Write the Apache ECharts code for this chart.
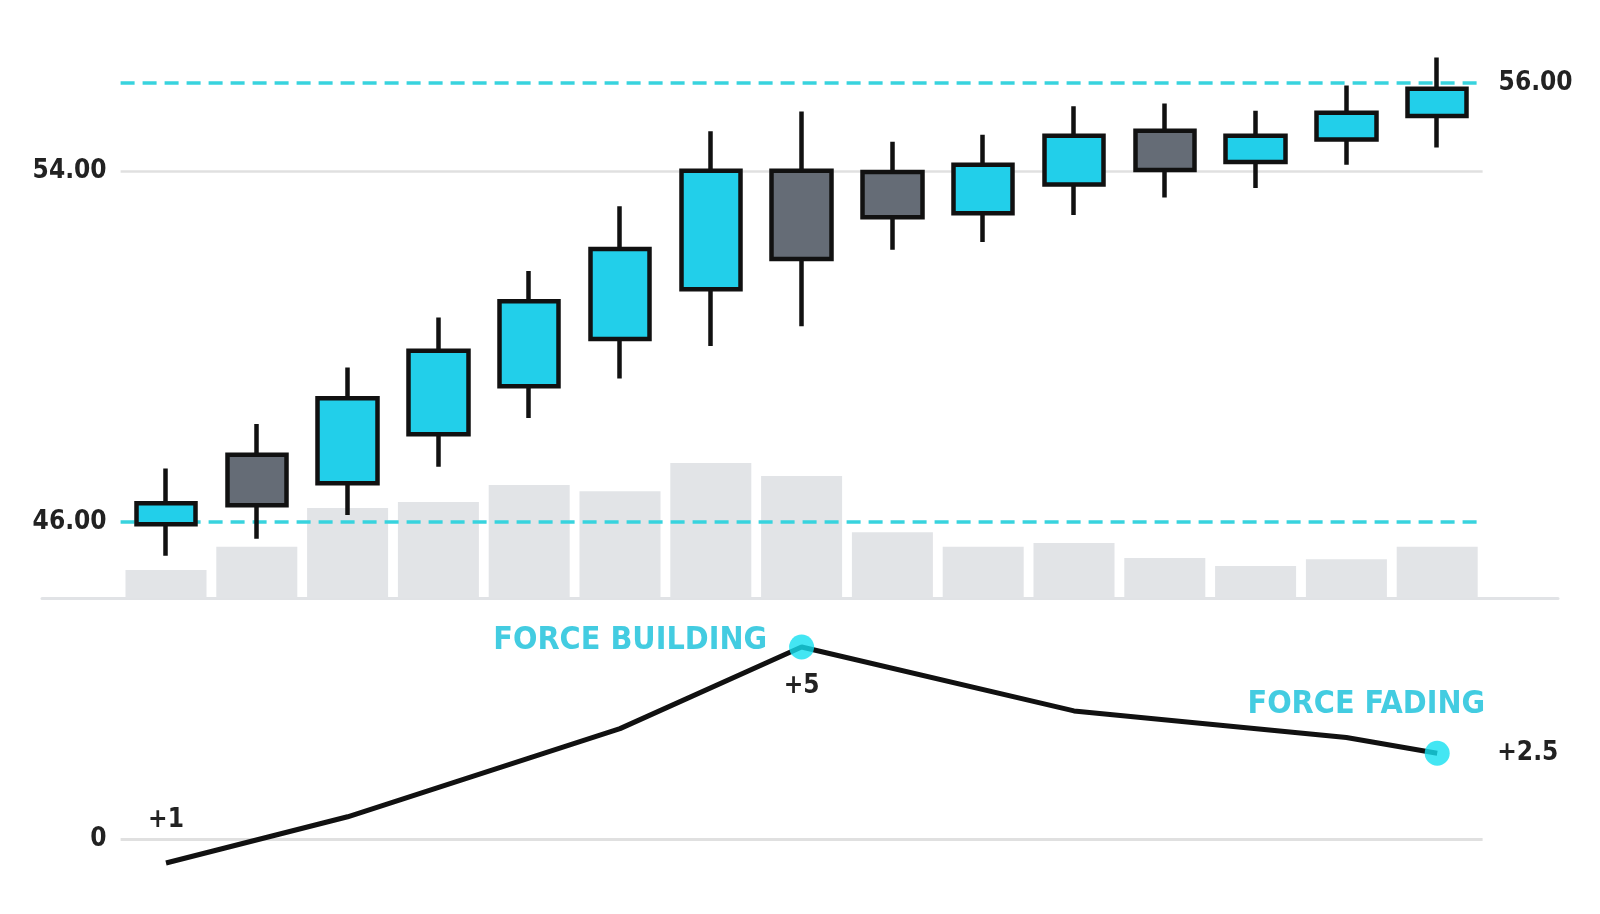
<!DOCTYPE html>
<html>
<head>
<meta charset="utf-8">
<script src="https://cdn.jsdelivr.net/npm/echarts@6/dist/echarts.min.js"></script>
<style>
html,body{margin:0;padding:0;background:#fff;}
#chart{width:1600px;height:914px;}
</style>
</head>
<body>
<div id="chart"></div>
<script>
// ---- data ----
const categories = ['P1','P2','P3','P4','P5','P6','P7','P8','P9','P10','P11','P12','P13','P14','P15'];
const openV  = [45.95, 47.53, 46.88, 48.00, 49.09, 50.17, 51.30, 54.00, 53.97, 53.03, 53.69, 54.91, 54.20, 54.71, 55.25];
const closeV = [46.43, 46.38, 48.82, 49.90, 51.03, 52.22, 54.00, 51.99, 52.94, 54.14, 54.80, 54.02, 54.80, 55.32, 55.87];
const lowV   = [45.23, 45.62, 46.16, 47.26, 48.37, 49.27, 50.01, 50.46, 52.20, 52.38, 52.99, 53.39, 53.61, 54.14, 54.53];
const highV  = [47.22, 48.23, 49.52, 50.66, 51.72, 53.19, 54.90, 55.35, 54.66, 54.82, 55.47, 55.53, 55.37, 55.94, 56.58];
const volume = [5.0, 9.1, 16.0, 17.1, 20.1, 19.0, 24.0, 21.7, 11.7, 9.1, 9.8, 7.1, 5.7, 6.9, 9.1];
const force  = [-0.61, null, 0.59, null, null, 2.88, null, 5.0, null, null, 3.34, null, null, 2.65, 2.24];
const forceNotes = ['+1','','','','','','','+5','','','','','','','+2.5'];
const forceMarks = [7, 14];
const forceMarkText = ['FORCE BUILDING', 'FORCE FADING'];
const gridLevel = 54, supportLevel = 46, resistLevel = 56;
const levelLabels = ['54.00', '46.00', '56.00'];
const zeroLabel = '0';

// ---- styles ----
const FONT = "'Liberation Sans Narrow','Arial Narrow','DejaVu Sans Condensed','Roboto Condensed',sans-serif";
const CYAN = '#22CFEA', GREY = '#656C76', DASH = '#38D3DE', DOT = '#14E0F0', TXTC = '#14BFDA';

const candleData = categories.map((c, i) => [openV[i], closeV[i], lowV[i], highV[i]]);

const lineData = force.map((v, i) => {
  const item = { value: v };
  if (forceNotes[i]) {
    let pos = 'top', dist = 30;
    if (i === 7) { pos = 'bottom'; dist = 26; }
    if (i === 14) { pos = 'right'; dist = 60; }
    item.label = { show: true, formatter: forceNotes[i], position: pos, distance: dist };
  }
  return item;
});

const dotData = categories.map((c, i) => {
  const k = forceMarks.indexOf(i);
  if (k < 0) return null;
  const item = { value: force[i] };
  if (k === 0) {
    item.label = { show: true, formatter: forceMarkText[k], position: 'left', distance: 22, offset: [0, -6] };
  } else {
    item.label = { show: true, formatter: forceMarkText[k], position: 'top', align: 'right', distance: 18, offset: [48, 0] };
  }
  return item;
});

const chart = echarts.init(document.getElementById('chart'), null, { renderer: 'canvas' });
const labelBase = { fontFamily: FONT, fontWeight: 'bold', color: '#222', fontSize: 26 };

chart.setOption({
  animation: false,
  backgroundColor: '#ffffff',
  grid: [
    { left: 120.6, right: 117.4, top: 36, bottom: 316 },
    { left: 120.6, right: 117.4, top: 608.5, bottom: 36 },
    { left: 42, right: 42, top: 500, bottom: 316 }
  ],
  xAxis: [
    { type: 'category', data: categories, gridIndex: 0, boundaryGap: true, show: false },
    { type: 'category', data: categories, gridIndex: 1, boundaryGap: true, show: false },
    { type: 'value', gridIndex: 2, min: 0, max: 1, axisLine: { show: true, onZero: false, lineStyle: { color: '#E1E3E6', width: 3 } },
      axisTick: { show: false }, axisLabel: { show: false }, splitLine: { show: false } }
  ],
  yAxis: [
    { type: 'value', gridIndex: 0, min: 44.269, max: 57.07, show: false, splitLine: { show: false } },
    { type: 'value', gridIndex: 0, min: 0, max: 100, show: false, splitLine: { show: false } },
    { type: 'value', gridIndex: 1, min: -1, max: 6, show: false, splitLine: { show: false } },
    { type: 'value', gridIndex: 2, min: 0, max: 1, show: false, splitLine: { show: false } }
  ],
  series: [
    {
      name: 'Volume', type: 'bar', xAxisIndex: 0, yAxisIndex: 1, data: volume,
      barWidth: 81, itemStyle: { color: '#E2E4E7' }, z: 1, silent: true
    },
    {
      name: 'Price', type: 'candlestick', xAxisIndex: 0, yAxisIndex: 0, data: candleData,
      barWidth: 60, z: 3,
      itemStyle: { color: CYAN, color0: GREY, borderColor: '#111', borderColor0: '#111', borderWidth: 4.5 },
      markLine: {
        z: 2, symbol: 'none', silent: true,
        data: [
          { yAxis: gridLevel, lineStyle: { type: 'solid', color: '#E0E0E0', width: 2.5 },
            label: Object.assign({}, labelBase, { position: 'start', distance: 14, formatter: levelLabels[0] }) },
          { yAxis: supportLevel, lineStyle: { type: [14, 8], color: DASH, width: 3.5 },
            label: Object.assign({}, labelBase, { position: 'start', distance: 14, formatter: levelLabels[1] }) },
          { yAxis: resistLevel, lineStyle: { type: [14, 8], color: DASH, width: 3.5 },
            label: Object.assign({}, labelBase, { position: 'end', distance: 16, formatter: levelLabels[2] }) }
        ]
      }
    },
    {
      name: 'Force', type: 'line', xAxisIndex: 1, yAxisIndex: 2, data: lineData, connectNulls: true,
      symbol: 'circle', symbolSize: 0.1, itemStyle: { color: '#111' },
      lineStyle: { color: '#111', width: 5 }, z: 3,
      label: Object.assign({}, labelBase, { fontSize: 26 }),
      markLine: {
        z: 1, symbol: 'none', silent: true,
        data: [
          { yAxis: 0, lineStyle: { type: 'solid', color: '#E0E0E0', width: 3 },
            label: Object.assign({}, labelBase, { fontSize: 26, position: 'start', distance: 14, formatter: zeroLabel }) }
        ]
      }
    },
    {
      name: 'Force marks', type: 'scatter', xAxisIndex: 1, yAxisIndex: 2, data: dotData,
      symbol: 'circle', symbolSize: 25, itemStyle: { color: DOT }, z: 4,
      label: { fontFamily: FONT, fontWeight: 'bold', color: TXTC, fontSize: 32, lineHeight: 36 }
    }
  ]
});
</script>
</body>
</html>
